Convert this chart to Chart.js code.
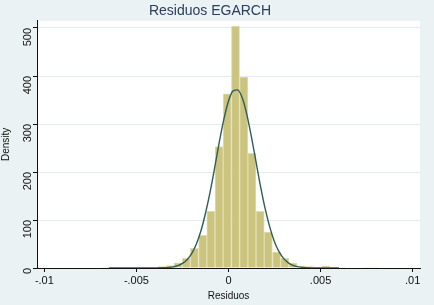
<!DOCTYPE html>
<html>
<head>
<meta charset="utf-8">
<script src="https://cdn.jsdelivr.net/npm/chart.js@4.4.1/dist/chart.umd.min.js"></script>
<style>
  html, body { margin: 0; padding: 0; background: #eaf2f3; }
  #wrap { width: 434px; height: 305px; }
</style>
</head>
<body>
<div id="wrap"><canvas id="myChart" width="434" height="305"></canvas></div>
<script>
// histogram bins (centre of each bin) and densities
const binX = [-0.00674, -0.00630, -0.00585, -0.00541, -0.00496, -0.00452, -0.00407, -0.00363,
  -0.00318, -0.00274, -0.00229, -0.00185, -0.00140, -0.00096, -0.00051, -0.00007,
  0.00038, 0.00083, 0.00127, 0.00172, 0.00216, 0.00261, 0.00305, 0.00350,
  0.00394, 0.00439, 0.00483, 0.00528, 0.00572, 0.00617, 0.00661, 0.00706, 0.00750, 0.00795];
const binY = [1, 1, 1, 0, 0, 1, 1, 3,
  5, 11, 20, 41, 68, 118, 253, 363,
  504, 398, 239, 118, 75, 33, 20, 10,
  4, 3, 2, 4, 1, 1, 0, 0, 1, 1];

// normal density overlay
const curveX = [-0.0065, -0.0045, -0.004, -0.0035, -0.00325, -0.003, -0.00275, -0.0025, -0.00225,
  -0.002, -0.00175, -0.0015, -0.00125, -0.001, -0.00075, -0.0005, -0.00025, 0,
  0.00025, 0.0005, 0.00075, 0.001, 0.00125, 0.0015, 0.00175, 0.002, 0.00225,
  0.0025, 0.00275, 0.003, 0.00325, 0.0035, 0.00375, 0.004, 0.0045, 0.006];
const curveY = [0, 0, 0.1, 0.5, 1.1, 2.4, 4.9, 9.5, 17.4,
  30, 49.5, 77, 114, 158, 209, 262, 310, 348,
  369, 371, 354, 319, 272, 220, 168, 122, 84,
  54, 33.5, 19.5, 10.7, 5.6, 2.8, 1.3, 0.2, 0];

const xTicks = [-0.01, -0.005, 0, 0.005, 0.01];
const xTickLabels = ['-.01', '-.005', '0', '.005', '.01'];
const yTicks = [0, 100, 200, 300, 400, 500];

const bg = {
  id: 'bg',
  beforeDraw(chart) {
    const { ctx, chartArea: a } = chart;
    ctx.save();
    ctx.fillStyle = '#eaf2f3';
    ctx.fillRect(0, 0, chart.width, chart.height);
    ctx.fillStyle = '#ffffff';
    ctx.fillRect(a.left, a.top, a.right - a.left, a.bottom - a.top);
    ctx.restore();
  }
};

const ctx = document.getElementById('myChart').getContext('2d');
const myChart = new Chart(ctx, {
  data: {
    datasets: [{
      type: 'line',
      label: 'normal',
      data: curveX.map((x, i) => ({ x: x, y: curveY[i] })),
      borderColor: '#2f5d58',
      borderWidth: 1.4,
      pointRadius: 0,
      cubicInterpolationMode: 'monotone',
      order: 0
    }, {
      type: 'bar',
      label: 'Residuos',
      data: binX.map((x, i) => ({ x: x, y: binY[i] })),
      backgroundColor: '#cbc47f',
      borderColor: '#e2ddb0',
      borderWidth: 1,
      categoryPercentage: 1,
      barPercentage: 1,
      order: 1
    }]
  },
  options: {
    responsive: false,
    animation: false,
    layout: { padding: { left: 0, right: 14, top: 0, bottom: 0 } },
    plugins: {
      legend: { display: false },
      tooltip: { enabled: false },
      title: {
        display: true,
        text: 'Residuos EGARCH',
        color: '#2a3d5c',
        font: { family: 'Liberation Sans, Arial', size: 14, weight: 'normal' },
        padding: { top: 3, bottom: 1 }
      }
    },
    scales: {
      x: {
        type: 'linear',
        offset: false,
        min: -0.0104,
        max: 0.0104,
        afterBuildTicks: s => { s.ticks = xTicks.map(v => ({ value: v })); },
        afterFit: s => { s.height = 37; },
        ticks: {
          color: '#111',
          font: { family: 'Liberation Sans, Arial', size: 11 },
          padding: 2,
          maxRotation: 0,
          callback: (v) => xTickLabels[xTicks.indexOf(v)]
        },
        grid: { display: true, offset: false, drawOnChartArea: false, drawTicks: true, tickLength: 4, tickColor: '#111' },
        border: { display: true, color: '#111', width: 1 },
        title: {
          display: true,
          text: 'Residuos',
          color: '#111',
          font: { family: 'Liberation Sans, Arial', size: 10 },
          padding: { top: 0, bottom: 3 }
        }
      },
      y: {
        min: 0,
        max: 515,
        afterBuildTicks: s => { s.ticks = yTicks.map(v => ({ value: v })); },
        afterFit: s => { s.width = 37; },
        ticks: {
          color: '#111',
          font: { family: 'Liberation Sans, Arial', size: 11 },
          minRotation: 90,
          maxRotation: 90,
          padding: 5
        },
        grid: { color: '#e3ecee', lineWidth: 1, tickLength: 4, tickColor: '#111' },
        border: { display: true, color: '#111', width: 1 },
        title: {
          display: true,
          text: 'Density',
          color: '#111',
          font: { family: 'Liberation Sans, Arial', size: 10 },
          padding: { top: 0, bottom: 0 }
        }
      }
    }
  },
  plugins: [bg]
});
</script>
</body>
</html>
